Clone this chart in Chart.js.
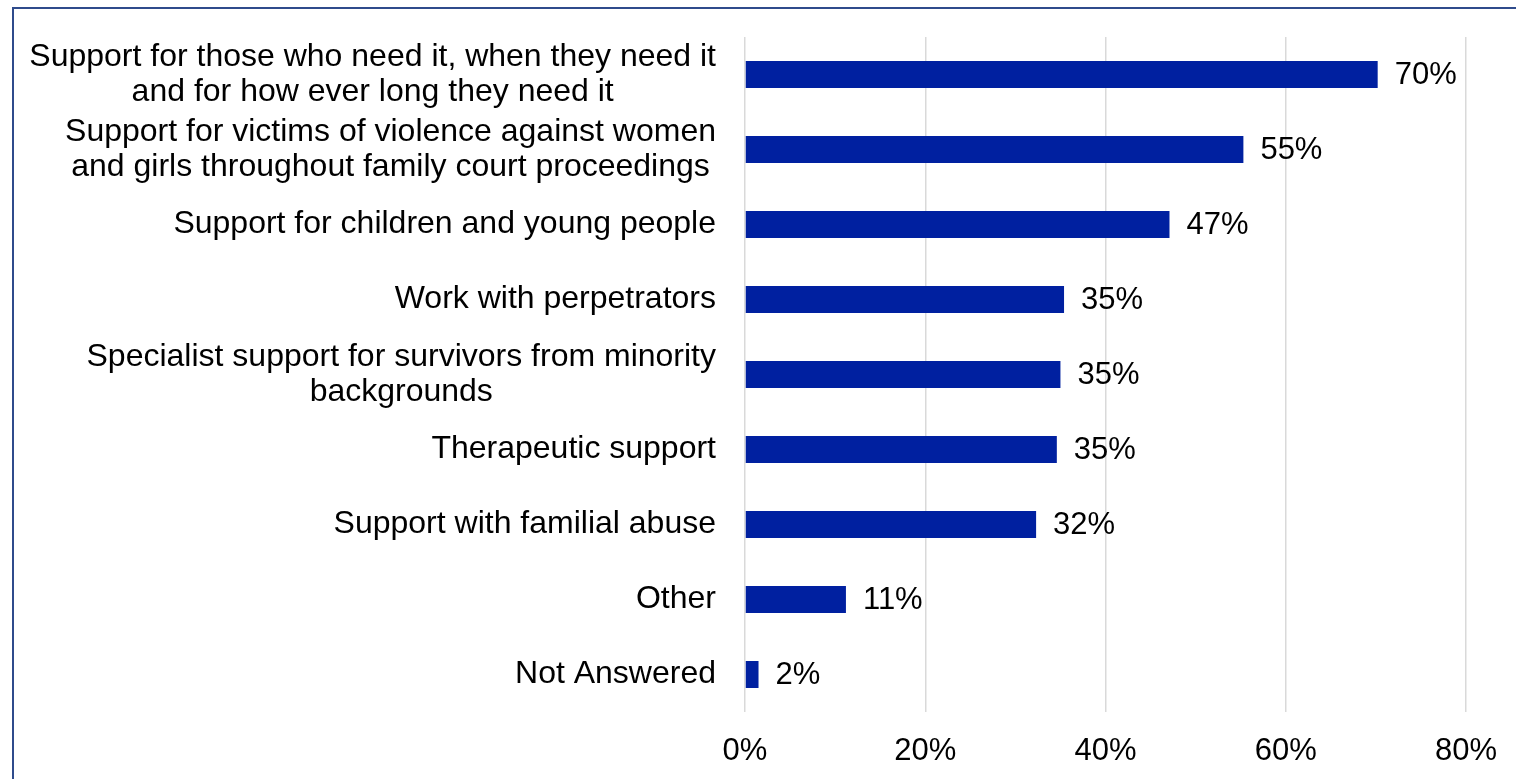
<!DOCTYPE html>
<html>
<head>
<meta charset="utf-8">
<script src="https://cdn.jsdelivr.net/npm/chart.js@4.4.1/dist/chart.umd.min.js"></script>
<style>
  html, body { margin: 0; padding: 0; background: #fff; overflow: hidden; }
  #frame {
    position: absolute; left: 12px; top: 7px;
    width: 1600px; height: 900px;
    border: 2px solid #2f4b8c;
  }
  #wrap { position: absolute; left: 0; top: 0; width: 1516px; height: 779px; }
</style>
</head>
<body>
<div id="frame"></div>
<div id="wrap"><canvas id="grafico" width="1516" height="779"></canvas></div>
<script>
// categorias (multi-linha onde o rótulo quebra)
const categorias = [
    ["Support for those who need it, when they need it", "and for how ever long they need it"],
    ["Support for victims of violence against women", "and girls throughout family court proceedings"],
    ["Support for children and young people"],
    ["Work with perpetrators"],
    ["Specialist support for survivors from minority", "backgrounds"],
    ["Therapeutic support"],
    ["Support with familial abuse"],
    ["Other"],
    ["Not Answered"]
];

// percentuais de respostas
const valores = [70.2, 55.3, 47.1, 35.4, 35.0, 34.6, 32.3, 11.2, 1.5];

// marcas do eixo x
const ticksX = [0, 20, 40, 60, 80];

const FAMILIA = '"Liberation Sans", Arial, sans-serif';
const FONTE_CAT = '32px ' + FAMILIA;
const FONTE_VAL = '31px ' + FAMILIA;
const COR_BARRA = '#0020a0';

// rótulos das categorias, centralizados linha a linha
const rotulosCategorias = {
    id: 'rotulosCategorias',
    afterDraw(chart) {
        const ctx = chart.ctx;
        const y = chart.scales.y;
        const direita = chart.chartArea.left - 29;
        const altLinha = 35;
        ctx.save();
        ctx.font = FONTE_CAT;
        ctx.fillStyle = '#000';
        ctx.textAlign = 'center';
        ctx.textBaseline = 'middle';
        categorias.forEach((linhas, i) => {
            const larg = Math.max(...linhas.map(l => ctx.measureText(l).width));
            const cx = direita - larg / 2;
            const cy = y.getPixelForValue(i);
            const y0 = cy - (linhas.length - 1) * altLinha / 2;
            linhas.forEach((l, k) => ctx.fillText(l, cx, y0 + k * altLinha));
        });
        ctx.restore();
    }
};

// valor ao lado de cada barra
const rotulosValores = {
    id: 'rotulosValores',
    afterDatasetsDraw(chart) {
        const ctx = chart.ctx;
        const meta = chart.getDatasetMeta(0);
        ctx.save();
        ctx.font = FONTE_VAL;
        ctx.fillStyle = '#000';
        ctx.textAlign = 'left';
        ctx.textBaseline = 'middle';
        meta.data.forEach((bar, i) => {
            ctx.fillText(Math.round(valores[i]) + '%', bar.x + 17, bar.y + 1);
        });
        ctx.restore();
    }
};

const ctx = document.getElementById("grafico");

new Chart(ctx, {
    type: 'bar',
    data: {
        labels: categorias.map(c => c.join(' ')),
        datasets: [{
            data: valores,
            backgroundColor: COR_BARRA,
            borderWidth: 0,
            barPercentage: 0.36,
            categoryPercentage: 1
        }]
    },
    options: {
        indexAxis: 'y',
        responsive: false,
        animation: false,
        layout: { padding: { left: 745, right: 50, top: 37, bottom: 0 } },
        plugins: {
            legend: { display: false },
            tooltip: { enabled: false }
        },
        scales: {
            x: {
                min: ticksX[0],
                max: ticksX[ticksX.length - 1],
                afterBuildTicks: s => { s.ticks = ticksX.map(v => ({ value: v })); },
                afterFit: s => {
                    s.height = 67;
                    s.paddingLeft = 0;
                    s.paddingRight = 0;
                },
                grid: { color: '#d9d9d9', lineWidth: 1.5, drawTicks: false },
                border: { display: false },
                ticks: {
                    padding: 21,
                    color: '#000',
                    font: { family: FAMILIA, size: 31 },
                    callback: v => v + '%'
                }
            },
            y: {
                display: false
            }
        }
    },
    plugins: [rotulosCategorias, rotulosValores]
});
</script>
</body>
</html>
